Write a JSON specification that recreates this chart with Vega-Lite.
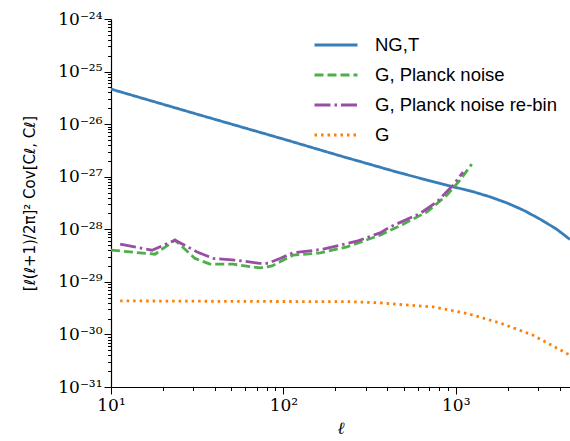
{
  "$schema": "https://vega.github.io/schema/vega-lite/v6.json",
  "width": 459,
  "height": 368,
  "autosize": {"type": "none"},
  "padding": {"left": 111, "top": 19, "right": 0, "bottom": 54},
  "background": "white",
  "config": {
    "view": {"stroke": null},
    "axis": {
      "domainColor": "black",
      "domainWidth": 1.2,
      "tickColor": "black",
      "tickWidth": 1,
      "grid": false,
      "labelFont": "DejaVu Serif",
      "labelFontSize": 17,
      "labelColor": "black",
      "labelOverlap": false,
      "labelFlush": false,
      "labelBound": false,
      "titleColor": "black",
      "titleFontWeight": "normal"
    },
    "legend": {
      "title": null,
      "orient": "none",
      "legendX": 202,
      "legendY": 11,
      "symbolType": "stroke",
      "symbolSize": 1849,
      "symbolStrokeWidth": 2.8,
      "labelFont": "Liberation Sans",
      "labelFontSize": 18.5,
      "labelColor": "black",
      "labelOffset": 16,
      "clipHeight": 30,
      "rowPadding": 0,
      "padding": 0,
      "labelLimit": 400
    }
  },
  "data": {
    "values": [
      {"s": "NG,T", "l": 10, "v": 4.64e-26},
      {"s": "NG,T", "l": 32.8, "v": 1.49e-26},
      {"s": "NG,T", "l": 100, "v": 5.2e-27},
      {"s": "NG,T", "l": 213, "v": 2.5e-27},
      {"s": "NG,T", "l": 475, "v": 1.18e-27},
      {"s": "NG,T", "l": 811, "v": 7.45e-28},
      {"s": "NG,T", "l": 968, "v": 6.43e-28},
      {"s": "NG,T", "l": 1265, "v": 5.16e-28},
      {"s": "NG,T", "l": 1581, "v": 4.14e-28},
      {"s": "NG,T", "l": 1977, "v": 3.18e-28},
      {"s": "NG,T", "l": 2468, "v": 2.31e-28},
      {"s": "NG,T", "l": 3085, "v": 1.56e-28},
      {"s": "NG,T", "l": 3855, "v": 1.0e-28},
      {"s": "NG,T", "l": 4600, "v": 6.4e-29},

      {"s": "G, Planck noise", "l": 10, "v": 4.01e-29},
      {"s": "G, Planck noise", "l": 18, "v": 3.36e-29},
      {"s": "G, Planck noise", "l": 23.5, "v": 6.21e-29},
      {"s": "G, Planck noise", "l": 30.7, "v": 2.79e-29},
      {"s": "G, Planck noise", "l": 37.5, "v": 2.17e-29},
      {"s": "G, Planck noise", "l": 51, "v": 2.17e-29},
      {"s": "G, Planck noise", "l": 73.2, "v": 1.84e-29},
      {"s": "G, Planck noise", "l": 85.9, "v": 2.01e-29},
      {"s": "G, Planck noise", "l": 95.6, "v": 2.4e-29},
      {"s": "G, Planck noise", "l": 113.7, "v": 3.21e-29},
      {"s": "G, Planck noise", "l": 163, "v": 3.55e-29},
      {"s": "G, Planck noise", "l": 234, "v": 4.63e-29},
      {"s": "G, Planck noise", "l": 364, "v": 7.73e-29},
      {"s": "G, Planck noise", "l": 495, "v": 1.25e-28},
      {"s": "G, Planck noise", "l": 682, "v": 2.15e-28},
      {"s": "G, Planck noise", "l": 890, "v": 4.47e-28},
      {"s": "G, Planck noise", "l": 1059, "v": 8.61e-28},
      {"s": "G, Planck noise", "l": 1238, "v": 1.74e-27},

      {"s": "G, Planck noise re-bin", "l": 11.3, "v": 5.21e-29},
      {"s": "G, Planck noise re-bin", "l": 17.3, "v": 4.0e-29},
      {"s": "G, Planck noise re-bin", "l": 23.5, "v": 6.21e-29},
      {"s": "G, Planck noise re-bin", "l": 31.6, "v": 3.71e-29},
      {"s": "G, Planck noise re-bin", "l": 39.1, "v": 2.79e-29},
      {"s": "G, Planck noise re-bin", "l": 53.8, "v": 2.58e-29},
      {"s": "G, Planck noise re-bin", "l": 73.2, "v": 2.24e-29},
      {"s": "G, Planck noise re-bin", "l": 81.5, "v": 2.26e-29},
      {"s": "G, Planck noise re-bin", "l": 95.6, "v": 2.79e-29},
      {"s": "G, Planck noise re-bin", "l": 113.7, "v": 3.56e-29},
      {"s": "G, Planck noise re-bin", "l": 170, "v": 4.18e-29},
      {"s": "G, Planck noise re-bin", "l": 271, "v": 6.02e-29},
      {"s": "G, Planck noise re-bin", "l": 364, "v": 8.55e-29},
      {"s": "G, Planck noise re-bin", "l": 416, "v": 1.11e-28},
      {"s": "G, Planck noise re-bin", "l": 621, "v": 2.0e-28},
      {"s": "G, Planck noise re-bin", "l": 779, "v": 3.33e-28},
      {"s": "G, Planck noise re-bin", "l": 965, "v": 6.92e-28},
      {"s": "G, Planck noise re-bin", "l": 1103, "v": 1.22e-27},

      {"s": "G", "l": 11.3, "v": 4.35e-30},
      {"s": "G", "l": 56, "v": 4.25e-30},
      {"s": "G", "l": 244, "v": 4.2e-30},
      {"s": "G", "l": 364, "v": 4.0e-30},
      {"s": "G", "l": 475, "v": 3.71e-30},
      {"s": "G", "l": 738, "v": 3.34e-30},
      {"s": "G", "l": 1163, "v": 2.5e-30},
      {"s": "G", "l": 1808, "v": 1.65e-30},
      {"s": "G", "l": 2811, "v": 9.64e-31},
      {"s": "G", "l": 4426, "v": 4.31e-31},
      {"s": "G", "l": 4600, "v": 4.05e-31}
    ]
  },
  "mark": {"type": "line", "strokeWidth": 2.8, "strokeCap": "butt", "clip": true},
  "encoding": {
    "x": {
      "field": "l",
      "type": "quantitative",
      "scale": {"type": "log", "domain": [10, 4600], "nice": false},
      "axis": {
        "title": "ℓ",
        "titleFont": "DejaVu Serif",
        "titleFontStyle": "italic",
        "titleFontSize": 17,
        "titlePadding": 7,
        "labelPadding": 3,
        "values": [10, 20, 30, 40, 50, 60, 70, 80, 90, 100, 200, 300, 400, 500, 600, 700, 800, 900, 1000, 2000, 3000, 4000],
        "labelExpr": "(abs(log(datum.value)/LN10 - round(log(datum.value)/LN10)) > 0.01) ? '' : '10' + replace(replace(replace(replace(replace(replace(replace(replace(replace(replace(replace('' + round(log(datum.value)/LN10), '-', '⁻'), '0', '⁰'), '1', '¹'), '2', '²'), '3', '³'), '4', '⁴'), '5', '⁵'), '6', '⁶'), '7', '⁷'), '8', '⁸'), '9', '⁹')",
        "tickSize": {"condition": {"test": "abs(log(datum.value)/LN10 - round(log(datum.value)/LN10)) < 0.01", "value": 7}, "value": 3.5}
      }
    },
    "y": {
      "field": "v",
      "type": "quantitative",
      "scale": {"type": "log", "domain": [1e-31, 1e-24], "nice": false},
      "axis": {
        "title": "[ℓ(ℓ+1)/2π]² Cov[Cℓ, Cℓ]",
        "titleFont": "DejaVu Sans",
        "titleFontSize": 15,
        "titlePadding": 20,
        "labelPadding": 2,
        "values": [1e-31, 2e-31, 3e-31, 4e-31, 5e-31, 6e-31, 7e-31, 8e-31, 9e-31,
                   1e-30, 2e-30, 3e-30, 4e-30, 5e-30, 6e-30, 7e-30, 8e-30, 9e-30,
                   1e-29, 2e-29, 3e-29, 4e-29, 5e-29, 6e-29, 7e-29, 8e-29, 9e-29,
                   1e-28, 2e-28, 3e-28, 4e-28, 5e-28, 6e-28, 7e-28, 8e-28, 9e-28,
                   1e-27, 2e-27, 3e-27, 4e-27, 5e-27, 6e-27, 7e-27, 8e-27, 9e-27,
                   1e-26, 2e-26, 3e-26, 4e-26, 5e-26, 6e-26, 7e-26, 8e-26, 9e-26,
                   1e-25, 2e-25, 3e-25, 4e-25, 5e-25, 6e-25, 7e-25, 8e-25, 9e-25,
                   1e-24],
        "labelExpr": "(abs(log(datum.value)/LN10 - round(log(datum.value)/LN10)) > 0.01) ? '' : '10' + replace(replace(replace(replace(replace(replace(replace(replace(replace(replace(replace('' + round(log(datum.value)/LN10), '-', '⁻'), '0', '⁰'), '1', '¹'), '2', '²'), '3', '³'), '4', '⁴'), '5', '⁵'), '6', '⁶'), '7', '⁷'), '8', '⁸'), '9', '⁹')",
        "tickSize": {"condition": {"test": "abs(log(datum.value)/LN10 - round(log(datum.value)/LN10)) < 0.01", "value": 7}, "value": 3.5}
      }
    },
    "color": {
      "field": "s",
      "type": "nominal",
      "scale": {
        "domain": ["NG,T", "G, Planck noise", "G, Planck noise re-bin", "G"],
        "range": ["#377eb8", "#4daf4a", "#984ea3", "#ff7f00"]
      }
    },
    "strokeDash": {
      "field": "s",
      "type": "nominal",
      "scale": {
        "domain": ["NG,T", "G, Planck noise", "G, Planck noise re-bin", "G"],
        "range": [[1, 0], [9, 4], [16, 4, 2.5, 4], [2.5, 4]]
      }
    }
  }
}
